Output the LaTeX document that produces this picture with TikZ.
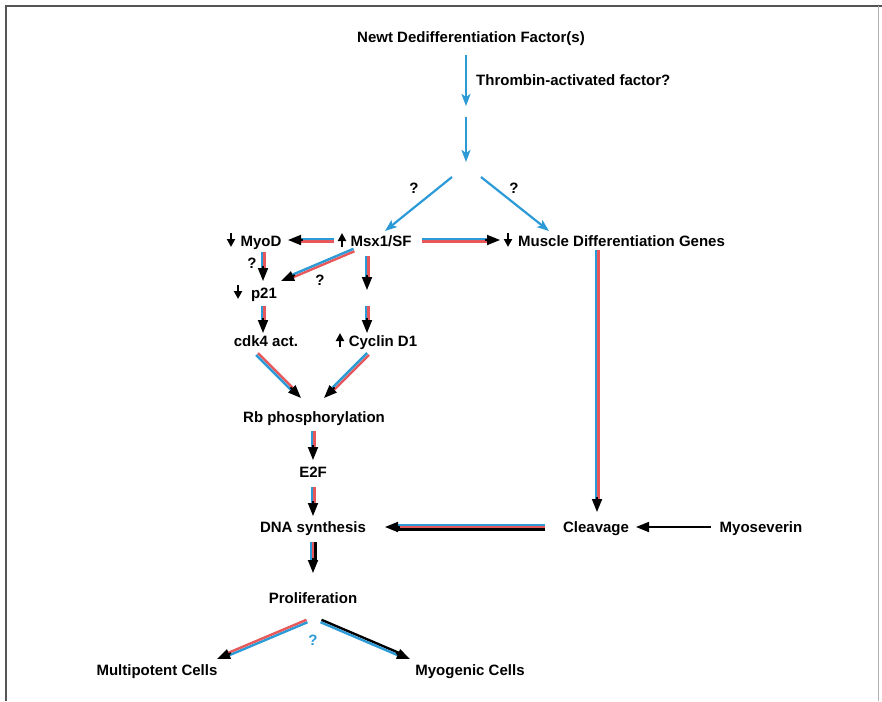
\documentclass[tikz,border=0pt]{standalone}
\usepackage{fontspec}
\setmainfont{Liberation Sans}
\usetikzlibrary{calc,arrows.meta}
\definecolor{cblue}{RGB}{43,154,214}
\definecolor{cred}{RGB}{232,88,90}
\definecolor{framecol}{RGB}{85,85,85}
\tikzset{
 lbl/.style={font=\bfseries\fontsize{15}{18}\selectfont, inner sep=0pt, anchor=base},
 bluearrow/.style={draw=cblue, line width=2.2pt, -{Stealth[length=12pt,width=9pt,inset=3pt]}},
 stripe/.style={line width=2.4pt},
 headblk/.style={draw=black, line width=1.8pt, -{Triangle[length=13pt,width=10pt]}},
 symarrow/.style={draw=black, line width=2.4pt, -{Triangle[length=8pt,width=8pt]}},
}
\newcommand\duoarrow[4]{%
  \draw[stripe,#3,shorten >=10pt] ($(#1)!1.3pt!90:(#2)$) -- ($(#2)!1.3pt!-90:(#1)$);
  \draw[stripe,#4,shorten >=10pt] ($(#1)!1.3pt!-90:(#2)$) -- ($(#2)!1.3pt!90:(#1)$);
  \draw[headblk] ($(#2)!15pt!(#1)$) -- (#2);}
\newcommand\trioarrow[5]{%
  \draw[stripe,#3,shorten >=10pt] ($(#1)!2.3pt!90:(#2)$) -- ($(#2)!2.3pt!-90:(#1)$);
  \draw[stripe,#4,shorten >=10pt] (#1) -- (#2);
  \draw[stripe,#5,shorten >=10pt] ($(#1)!2.3pt!-90:(#2)$) -- ($(#2)!2.3pt!90:(#1)$);
  \draw[headblk] ($(#2)!15pt!(#1)$) -- (#2);}
\newcommand\symdown[1]{\draw[symarrow] ($(#1)+(0,-7)$) -- ($(#1)+(0,7)$);}
\newcommand\symup[1]{\draw[symarrow] ($(#1)+(0,7)$) -- ($(#1)+(0,-7)$);}
\begin{document}
\begin{tikzpicture}[x=1pt,y=-1pt]
\useasboundingbox (0,0) rectangle (882,701);
% frame
\draw[framecol, line width=1.2pt] (6,701) -- (6,6) -- (882,6);
\draw[gray!60, line width=0.8pt] (878,6) -- (878,701);

% text nodes
\node[lbl] (title) at (471,43) {Newt Dedifferentiation Factor(s)};
\node[lbl, anchor=base west] (thr) at (476,85) {Thrombin-activated factor?};
\node[lbl] (q1) at (414,193) {?};
\node[lbl] (q2) at (514,193) {?};
\node[lbl] (myod) at (261,246) {MyoD};
\node[lbl] (msx) at (381,246) {Msx1/SF};
\node[lbl, anchor=base west] (mdg) at (518,246) {Muscle Differentiation Genes};
\node[lbl] (q3) at (252,268) {?};
\node[lbl] (q4) at (320,285) {?};
\node[lbl] (p21) at (264,298) {p21};
\node[lbl] (cdk4) at (266,346) {cdk4 act.};
\node[lbl] (cyc) at (383,346) {Cyclin D1};
\node[lbl] (rb) at (314,422) {Rb phosphorylation};
\node[lbl] (e2f) at (313,477) {E2F};
\node[lbl] (dna) at (313,532) {DNA synthesis};
\node[lbl] (clv) at (596,532) {Cleavage};
\node[lbl] (myo) at (761,532) {Myoseverin};
\node[lbl] (prol) at (313,603) {Proliferation};
\node[lbl, text=cblue] (q5) at (313,645) {?};
\node[lbl] (multi) at (157,675) {Multipotent Cells};
\node[lbl] (myog) at (470,675) {Myogenic Cells};

% up / down markers
\coordinate (smyod) at (231,240);
\coordinate (smsx) at (342,240);
\coordinate (smdg) at (508,240);
\coordinate (sp21) at (238,292);
\coordinate (scyc) at (340,340);
\symdown{smyod}
\symup{smsx}
\symdown{smdg}
\symdown{sp21}
\symup{scyc}

% blue arrows at top
\coordinate (b1s) at (466,55);
\coordinate (gap1) at (466,106);
\coordinate (gap2) at (466,117);
\coordinate (fork) at (466,162);
\coordinate (forkL) at (452,177);
\coordinate (forkR) at (481,177);
\coordinate (msxin) at (385,231);
\coordinate (mdgin) at (549,231);
\draw[bluearrow] (b1s) -- (gap1);
\draw[bluearrow] (gap2) -- (fork);
\draw[bluearrow] (forkL) -- (msxin);
\draw[bluearrow] (forkR) -- (mdgin);

% striped arrows
\coordinate (a1s) at (334,240); \coordinate (a1e) at (288,240);
\duoarrow{a1s}{a1e}{cred}{cblue}
\coordinate (a2s) at (422,240); \coordinate (a2e) at (500,240);
\duoarrow{a2s}{a2e}{cblue}{cred}
\coordinate (a3s) at (263,252); \coordinate (a3e) at (263,281);
\duoarrow{a3s}{a3e}{cred}{cblue}
\coordinate (a4s) at (354,250); \coordinate (a4e) at (281,281);
\duoarrow{a4s}{a4e}{cred}{cblue}
\coordinate (a5s) at (367,256); \coordinate (a5e) at (367,290);
\duoarrow{a5s}{a5e}{cred}{cblue}
\coordinate (a6s) at (263,306); \coordinate (a6e) at (263,333);
\duoarrow{a6s}{a6e}{cred}{cblue}
\coordinate (a7s) at (367,306); \coordinate (a7e) at (367,333);
\duoarrow{a7s}{a7e}{cred}{cblue}
\coordinate (a8s) at (257,354); \coordinate (a8e) at (301,398);
\duoarrow{a8s}{a8e}{cred}{cblue}
\coordinate (a9s) at (368,354); \coordinate (a9e) at (324,398);
\duoarrow{a9s}{a9e}{cred}{cblue}
\coordinate (a10s) at (313,431); \coordinate (a10e) at (313,460);
\duoarrow{a10s}{a10e}{cred}{cblue}
\coordinate (a11s) at (313,487); \coordinate (a11e) at (313,516);
\duoarrow{a11s}{a11e}{cred}{cblue}
\coordinate (a12s) at (597,250); \coordinate (a12e) at (597,512);
\duoarrow{a12s}{a12e}{cred}{cblue}
\coordinate (a13s) at (545,527); \coordinate (a13e) at (385,527);
\trioarrow{a13s}{a13e}{black}{cred}{cblue}
\coordinate (a14s) at (313,542); \coordinate (a14e) at (313,573);
\trioarrow{a14s}{a14e}{black}{cred}{cblue}
\coordinate (a15s) at (307,621); \coordinate (a15e) at (217,659);
\duoarrow{a15s}{a15e}{cblue}{cred}
\coordinate (a16s) at (321,621); \coordinate (a16e) at (410,659);
\duoarrow{a16s}{a16e}{black}{cblue}

% myoseverin -> cleavage
\coordinate (m1s) at (711,527); \coordinate (m1e) at (636,527);
\draw[headblk] (m1s) -- (m1e);
\end{tikzpicture}
\end{document}
